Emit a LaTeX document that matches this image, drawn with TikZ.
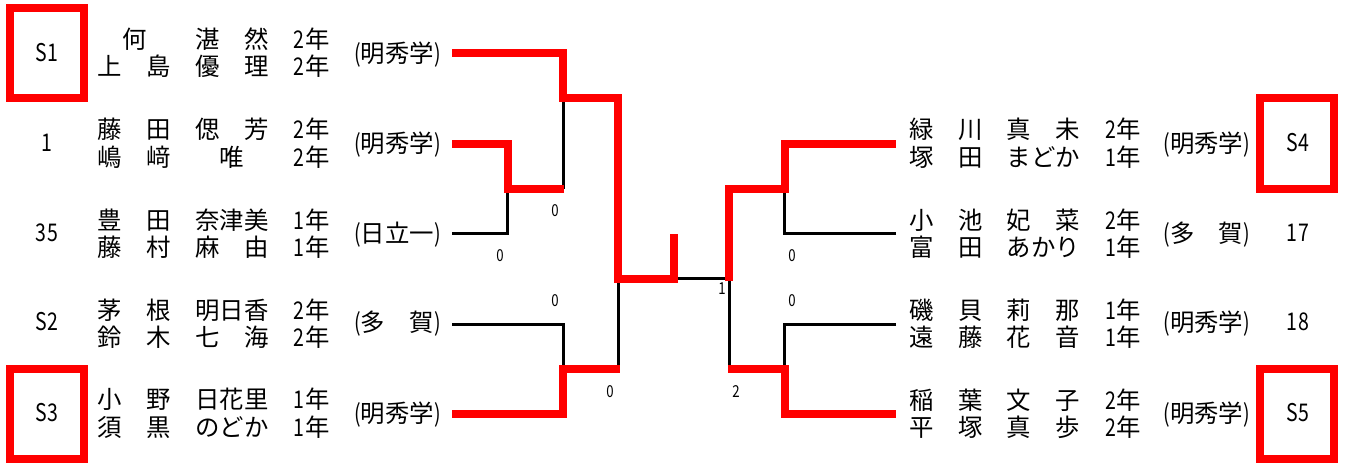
\documentclass[tikz,border=0pt]{standalone}
\usepackage{fontspec}
\setmainfont{Noto Sans CJK JP}
\newfontfamily\narrowfont[FakeStretch=0.8]{Noto Sans CJK JP}
\newcommand{\hw}[1]{\makebox[12.2pt][c]{\narrowfont #1}}
\newcommand{\lp}{\makebox[12.2pt][r]{\narrowfont (}}
\newcommand{\rp}{\makebox[12.2pt][l]{\narrowfont )}}
\newcommand{\ent}[4]{\node[txt] (#1) at (#2,#3+9) {#4};}
\newcommand{\pair}[6]{\ent{#1a}{#2}{#3}{#4}\ent{#1b}{#2}{#5}{#6}}
\tikzset{
  txt/.style={anchor=base west,inner sep=0pt,font=\fontsize{24.4pt}{26pt}\selectfont},
  seedlab/.style={inner sep=0pt,font=\fontsize{24.4pt}{26pt}\selectfont},
  score/.style={inner sep=0pt,font=\fontsize{16.5pt}{18pt}\selectfont\narrowfont},
  redline/.style={draw=red,line width=8pt,miter limit=10},
  blackline/.style={draw=black,line width=3pt}
}
\begin{document}
\begin{tikzpicture}[x=1pt,y=-1pt]
\useasboundingbox (0,0) rectangle (1345,464);
% named line ends
\coordinate (L1) at (452,53);
\coordinate (L2) at (452,144);
\coordinate (L3) at (452,233);
\coordinate (L4) at (452,324);
\coordinate (L5) at (452,414);
\coordinate (R1) at (896,144);
\coordinate (R2) at (896,233);
\coordinate (R3) at (896,324);
\coordinate (R4) at (896,414);
\coordinate (J1) at (507,189);
\coordinate (J2) at (563,98);
\coordinate (J3) at (563,369);
\coordinate (J4) at (618,279);
\coordinate (C1) at (674,278);
\coordinate (C2) at (729,278);
\coordinate (C3) at (674,234);
\coordinate (K1) at (784,189);
\coordinate (K2) at (784,369);
\coordinate (K3) at (729,189);
\coordinate (K4) at (729,369);
% black lines
\draw[blackline] (L3) -| (J1);
\draw[blackline] (J2) -- (J2 |- J1);
\draw[blackline] (L4) -| (J3);
\draw[blackline] (J4) -- (J4 |- J3);
\draw[blackline] (C1) -- (C2);
\draw[blackline] (C2) -- (K4);
\draw[blackline] (R2) -| (K1);
\draw[blackline] (R3) -| (K2);
% red lines
\draw[redline] (L1) -| (J2) -| (J4) -| (C3);
\draw[redline] (L2) -| ([xshift=1pt]J1) -- (564,189);
\draw[redline] (L5) -| (J3) -- (620,369);
\draw[redline] (729,281) -- (K3) -| ([xshift=1pt]K1 |- R1) -- (R1);
\draw[redline] (728,369) -- ([xshift=1pt]K2) |- (R4);
% seed boxes
\draw[redline] (10,8) rectangle (84,98);
\draw[redline] (10,369) rectangle (84,459);
\draw[redline] (1260,98) rectangle (1334,189);
\draw[redline] (1260,369) rectangle (1334,459);
% seeds
\node[seedlab] (s1) at (47,53) {\hw{S}\hw{1}};
\node[seedlab] (s2) at (47,143) {\hw{1}};
\node[seedlab] (s3) at (47,233) {\hw{3}\hw{5}};
\node[seedlab] (s4) at (47,322) {\hw{S}\hw{2}};
\node[seedlab] (s5) at (47,413) {\hw{S}\hw{3}};
\node[seedlab] (s6) at (1298,143) {\hw{S}\hw{4}};
\node[seedlab] (s7) at (1298,233) {\hw{1}\hw{7}};
\node[seedlab] (s8) at (1298,322) {\hw{1}\hw{8}};
\node[seedlab] (s9) at (1298,413) {\hw{S}\hw{5}};
% names, left
\pair{n1}{97.5}{39}{　何　　湛　然　\hw{2}年}{66}{上　島　優　理　\hw{2}年}
\pair{n2}{97.5}{129}{藤　田　偲　芳　\hw{2}年}{157}{嶋　﨑　　唯　　\hw{2}年}
\pair{n3}{97.5}{220}{豊　田　奈津美　\hw{1}年}{247}{藤　村　麻　由　\hw{1}年}
\pair{n4}{97.5}{310}{茅　根　明日香　\hw{2}年}{337}{鈴　木　七　海　\hw{2}年}
\pair{n5}{97.5}{399}{小　野　日花里　\hw{1}年}{427}{須　黒　のどか　\hw{1}年}
% names, right
\pair{m1}{909}{129}{緑　川　真　未　\hw{2}年}{157}{塚　田　まどか　\hw{1}年}
\pair{m2}{909}{220}{小　池　妃　菜　\hw{2}年}{247}{富　田　あかり　\hw{1}年}
\pair{m3}{909}{310}{磯　貝　莉　那　\hw{1}年}{337}{遠　藤　花　音　\hw{1}年}
\pair{m4}{909}{400}{稲　葉　文　子　\hw{2}年}{427}{平　塚　真　歩　\hw{2}年}
% schools
\ent{t1}{348.5}{53}{\lp 明秀学\rp}
\ent{t2}{348.5}{143}{\lp 明秀学\rp}
\ent{t3}{348.5}{233}{\lp 日立一\rp}
\ent{t4}{348.5}{322}{\lp 多　賀\rp}
\ent{t5}{348.5}{413}{\lp 明秀学\rp}
\ent{u1}{1157.6}{143}{\lp 明秀学\rp}
\ent{u2}{1157.6}{233}{\lp 多　賀\rp}
\ent{u3}{1157.6}{322}{\lp 明秀学\rp}
\ent{u4}{1157.6}{413}{\lp 明秀学\rp}
% scores
\node[score] (p1) at (555,211) {0};
\node[score] (p2) at (500,256) {0};
\node[score] (p3) at (555,301) {0};
\node[score] (p4) at (610,392) {0};
\node[score] (p5) at (736,392) {2};
\node[score] (p6) at (722,289) {1};
\node[score] (p7) at (792,256) {0};
\node[score] (p8) at (792,301) {0};
\end{tikzpicture}
\end{document}
